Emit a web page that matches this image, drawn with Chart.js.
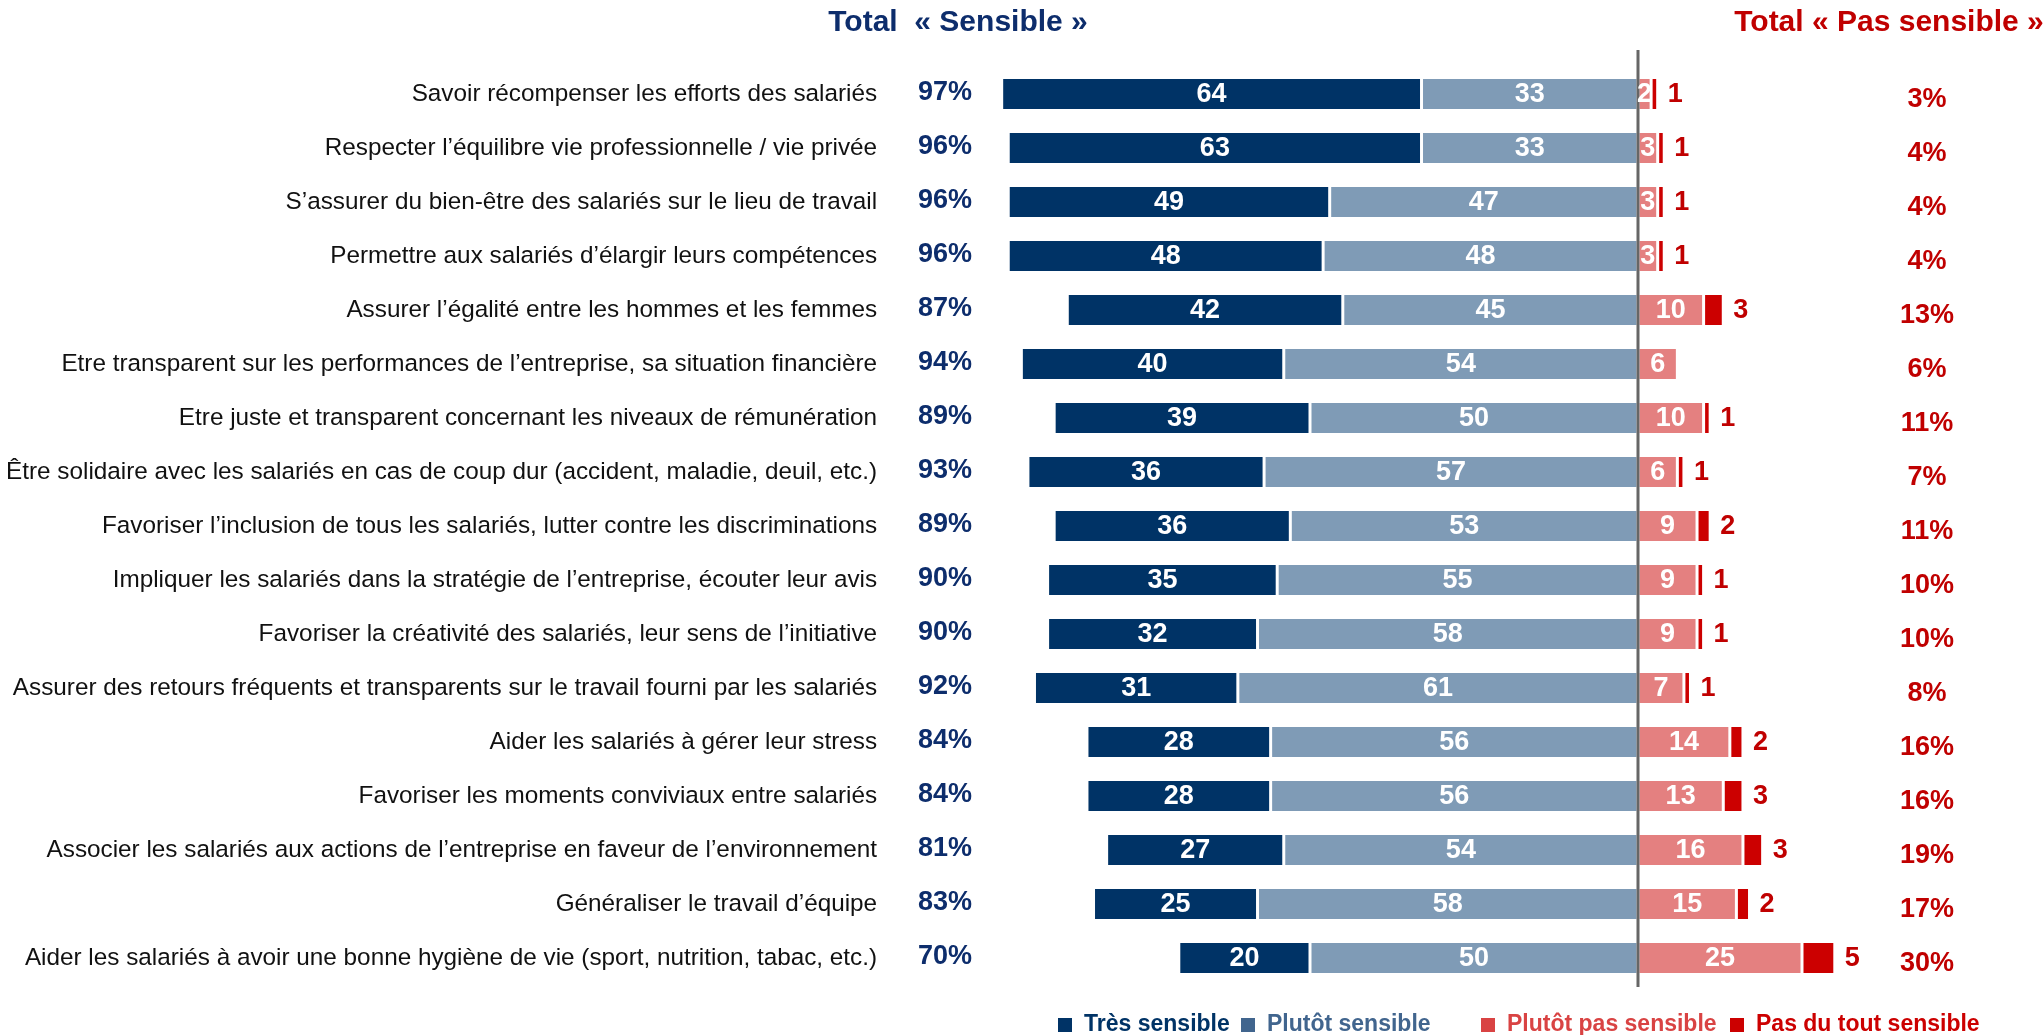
<!DOCTYPE html>
<html><head><meta charset="utf-8">
<script src="https://cdn.jsdelivr.net/npm/chart.js@4.4.0/dist/chart.umd.min.js"></script>
<style>html,body{margin:0;padding:0;background:#fff;overflow:hidden}
#wrap{position:relative;width:2044px;height:1035px}</style></head>
<body><div id="wrap"><canvas id="c"></canvas></div>
<script>
const categories = [
  "Savoir récompenser les efforts des salariés",
  "Respecter l’équilibre vie professionnelle / vie privée",
  "S’assurer du bien-être des salariés sur le lieu de travail",
  "Permettre aux salariés d’élargir leurs compétences",
  "Assurer l’égalité entre les hommes et les femmes",
  "Etre transparent sur les performances de l’entreprise, sa situation financière",
  "Etre juste et transparent concernant les niveaux de rémunération",
  "Être solidaire avec les salariés en cas de coup dur (accident, maladie, deuil, etc.)",
  "Favoriser l’inclusion de tous les salariés, lutter contre les discriminations",
  "Impliquer les salariés dans la stratégie de l’entreprise, écouter leur avis",
  "Favoriser la créativité des salariés, leur sens de l’initiative",
  "Assurer des retours fréquents et transparents sur le travail fourni par les salariés",
  "Aider les salariés à gérer leur stress",
  "Favoriser les moments conviviaux entre salariés",
  "Associer les salariés aux actions de l’entreprise en faveur de l’environnement",
  "Généraliser le travail d’équipe",
  "Aider les salariés à avoir une bonne hygiène de vie (sport, nutrition, tabac, etc.)"
];
const tresSensible      = [64, 63, 49, 48, 42, 40, 39, 36, 36, 35, 32, 31, 28, 28, 27, 25, 20];
const plutotSensible    = [33, 33, 47, 48, 45, 54, 50, 57, 53, 55, 58, 61, 56, 56, 54, 58, 50];
const plutotPasSensible = [2, 3, 3, 3, 10, 6, 10, 6, 9, 9, 9, 7, 14, 13, 16, 15, 25];
const pasDuToutSensible = [1, 1, 1, 1, 3, 0, 1, 1, 2, 1, 1, 1, 2, 3, 3, 2, 5];
const totalSensible     = ["97%", "96%", "96%", "96%", "87%", "94%", "89%", "93%", "89%", "90%", "90%", "92%", "84%", "84%", "81%", "83%", "70%"];
const totalPasSensible  = ["3%", "4%", "4%", "4%", "13%", "6%", "11%", "7%", "11%", "10%", "10%", "8%", "16%", "16%", "19%", "17%", "30%"];
const titleLeft  = "Total  « Sensible »";
const titleRight = "Total « Pas sensible »";
const legendItems = ["Très sensible", "Plutôt sensible", "Plutôt pas sensible", "Pas du tout sensible"];

const FONT = '"Liberation Sans", Arial, sans-serif';
const NAVY = '#003366', LBLUE = '#7F9BB6', PINK = '#E48080', RED = '#CC0000';
const TXT_NAVY = '#0D2D6C', TXT_RED = '#C00000';

const overlay = {
  id: 'overlay',
  afterDatasetsDraw(chart) {
    const ctx = chart.ctx, xs = chart.scales.x, ys = chart.scales.y;
    const x0 = xs.getPixelForValue(0);
    ctx.save();
    // zero line
    ctx.strokeStyle = '#666666'; ctx.lineWidth = 3;
    ctx.beginPath(); ctx.moveTo(x0, 50); ctx.lineTo(x0, 987); ctx.stroke();
    // bar labels
    ctx.textBaseline = 'middle';
    chart.data.datasets.forEach((ds, di) => {
      const meta = chart.getDatasetMeta(di);
      meta.data.forEach((bar, i) => {
        const v = Math.abs(ds.data[i]);
        if (!v) return;
        ctx.font = 'bold 27px ' + FONT;
        if (di === 3) {
          ctx.fillStyle = TXT_RED; ctx.textAlign = 'left';
          ctx.fillText(String(v), Math.max(bar.x, bar.base) + 10, bar.y + 1);
        } else {
          ctx.fillStyle = '#ffffff'; ctx.textAlign = 'center';
          ctx.fillText(String(v), (bar.x + bar.base) / 2, bar.y + 1);
        }
      });
    });
    // totals
    ctx.font = 'bold 27px ' + FONT;
    ctx.textAlign = 'center';
    categories.forEach((c, i) => {
      const y = ys.getPixelForValue(i);
      ctx.fillStyle = TXT_NAVY; ctx.fillText(totalSensible[i], 945, y - 1);
      ctx.fillStyle = TXT_RED; ctx.fillText(totalPasSensible[i], 1927, y + 6);
    });
    // titles
    ctx.font = 'bold 30px ' + FONT;
    ctx.fillStyle = TXT_NAVY; ctx.fillText(titleLeft, 958, 23);
    ctx.fillStyle = TXT_RED; ctx.fillText(titleRight, 1889, 23);
    // legend
    const legColors = ['#003366', '#41658E', '#D94343', '#CC0000'];
    const legX = [1058, 1241, 1481, 1730];
    ctx.font = 'bold 23px ' + FONT; ctx.textAlign = 'left';
    legendItems.forEach((t, k) => {
      ctx.fillStyle = legColors[k];
      ctx.fillRect(legX[k], 1018, 14, 14);
      ctx.fillText(t, legX[k] + 26, 1025);
    });
    ctx.restore();
  }
};

const common = { borderColor: '#ffffff', borderWidth: {left: 1.5, right: 1.5, top: 0, bottom: 0}, borderSkipped: false, stack: 's', categoryPercentage: 1, barPercentage: 0.56 };

new Chart(document.getElementById('c'), {
  type: 'bar',
  data: {
    labels: categories,
    datasets: [
      Object.assign({ label: legendItems[1], data: plutotSensible.map(v => -v), backgroundColor: LBLUE }, common),
      Object.assign({ label: legendItems[0], data: tresSensible.map(v => -v), backgroundColor: NAVY }, common),
      Object.assign({ label: legendItems[2], data: plutotPasSensible, backgroundColor: PINK }, common),
      Object.assign({ label: legendItems[3], data: pasDuToutSensible, backgroundColor: RED }, common)
    ]
  },
  options: {
    indexAxis: 'y',
    responsive: true,
    maintainAspectRatio: false,
    animation: false,
    layout: { padding: { left: 0, right: 12.4, top: 67, bottom: 50 } },
    plugins: { legend: { display: false }, tooltip: { enabled: false } },
    scales: {
      x: { type: 'linear', min: -115, max: 60, stacked: true, display: false },
      y: {
        stacked: true,
        grid: { display: false, drawTicks: false },
        border: { display: false },
        ticks: { font: { family: FONT, size: 24.3 }, color: '#111111', padding: 6.5, autoSkip: false },
        afterFit(s) { s.width = 883.6; }
      }
    }
  },
  plugins: [overlay]
});
</script></body></html>
